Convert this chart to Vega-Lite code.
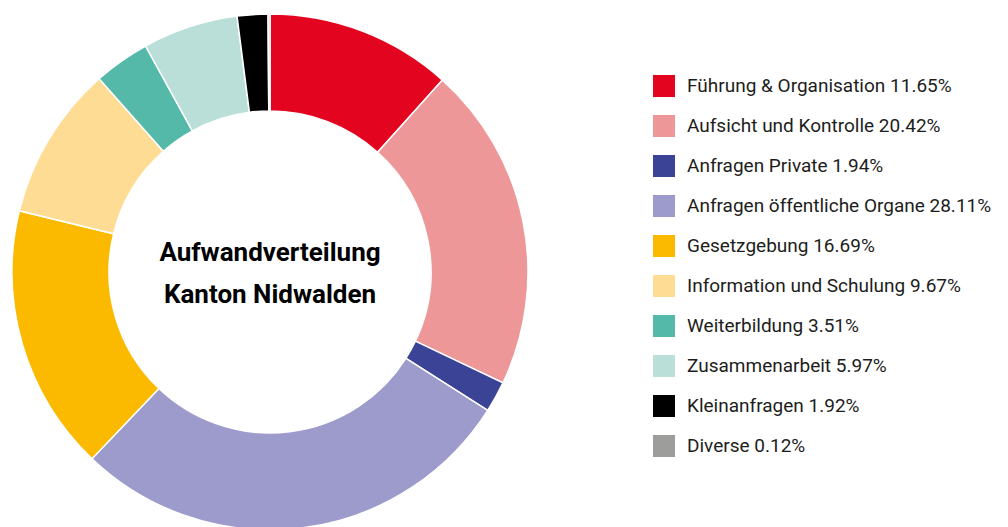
{
  "$schema": "https://vega.github.io/schema/vega-lite/v6.json",
  "width": 540,
  "height": 544,
  "padding": 0,
  "background": "white",
  "config": {"view": {"stroke": null}},
  "data": {
    "values": [
      {"i": 1, "kategorie": "Führung & Organisation", "anteil": 11.65},
      {"i": 2, "kategorie": "Aufsicht und Kontrolle", "anteil": 20.42},
      {"i": 3, "kategorie": "Anfragen Private", "anteil": 1.94},
      {"i": 4, "kategorie": "Anfragen öffentliche Organe", "anteil": 28.11},
      {"i": 5, "kategorie": "Gesetzgebung", "anteil": 16.69},
      {"i": 6, "kategorie": "Information und Schulung", "anteil": 9.67},
      {"i": 7, "kategorie": "Weiterbildung", "anteil": 3.51},
      {"i": 8, "kategorie": "Zusammenarbeit", "anteil": 5.97},
      {"i": 9, "kategorie": "Kleinanfragen", "anteil": 1.92},
      {"i": 10, "kategorie": "Diverse", "anteil": 0.12}
    ]
  },
  "layer": [
    {
      "transform": [
        {"calculate": "datum.kategorie + ' ' + format(datum.anteil, '.2f') + '%'", "as": "label"}
      ],
      "mark": {"type": "arc", "outerRadius": 258, "innerRadius": 161, "stroke": "white", "strokeWidth": 1.5},
      "encoding": {
        "theta": {"field": "anteil", "type": "quantitative", "stack": true},
        "order": {"field": "i", "type": "quantitative"},
        "color": {
          "field": "label",
          "type": "nominal",
          "sort": {"field": "i"},
          "scale": {
            "range": ["#E30520", "#EE9799", "#3A4395", "#9D9ACC", "#FBBA00", "#FEDC94", "#55B9A9", "#B9DFD8", "#000000", "#9D9D9C"]
          },
          "legend": {
            "orient": "none",
            "legendX": 653,
            "legendY": 75,
            "title": null,
            "symbolType": "square",
            "symbolSize": 484,
            "symbolStrokeWidth": 0,
            "symbolOpacity": 1,
            "labelFont": "Roboto",
            "labelFontSize": 19,
            "labelColor": "#1d1d1b",
            "labelOffset": 12,
            "labelLimit": 400,
            "rowPadding": 18
          }
        }
      }
    },
    {
      "data": {"values": [{"t": ["Aufwandverteilung", "Kanton Nidwalden"]}]},
      "mark": {"type": "text", "font": "Roboto", "fontWeight": "bold", "fontSize": 26, "lineHeight": 42, "baseline": "middle", "align": "center", "color": "#000000", "dy": -19},
      "encoding": {"text": {"field": "t"}}
    }
  ]
}
